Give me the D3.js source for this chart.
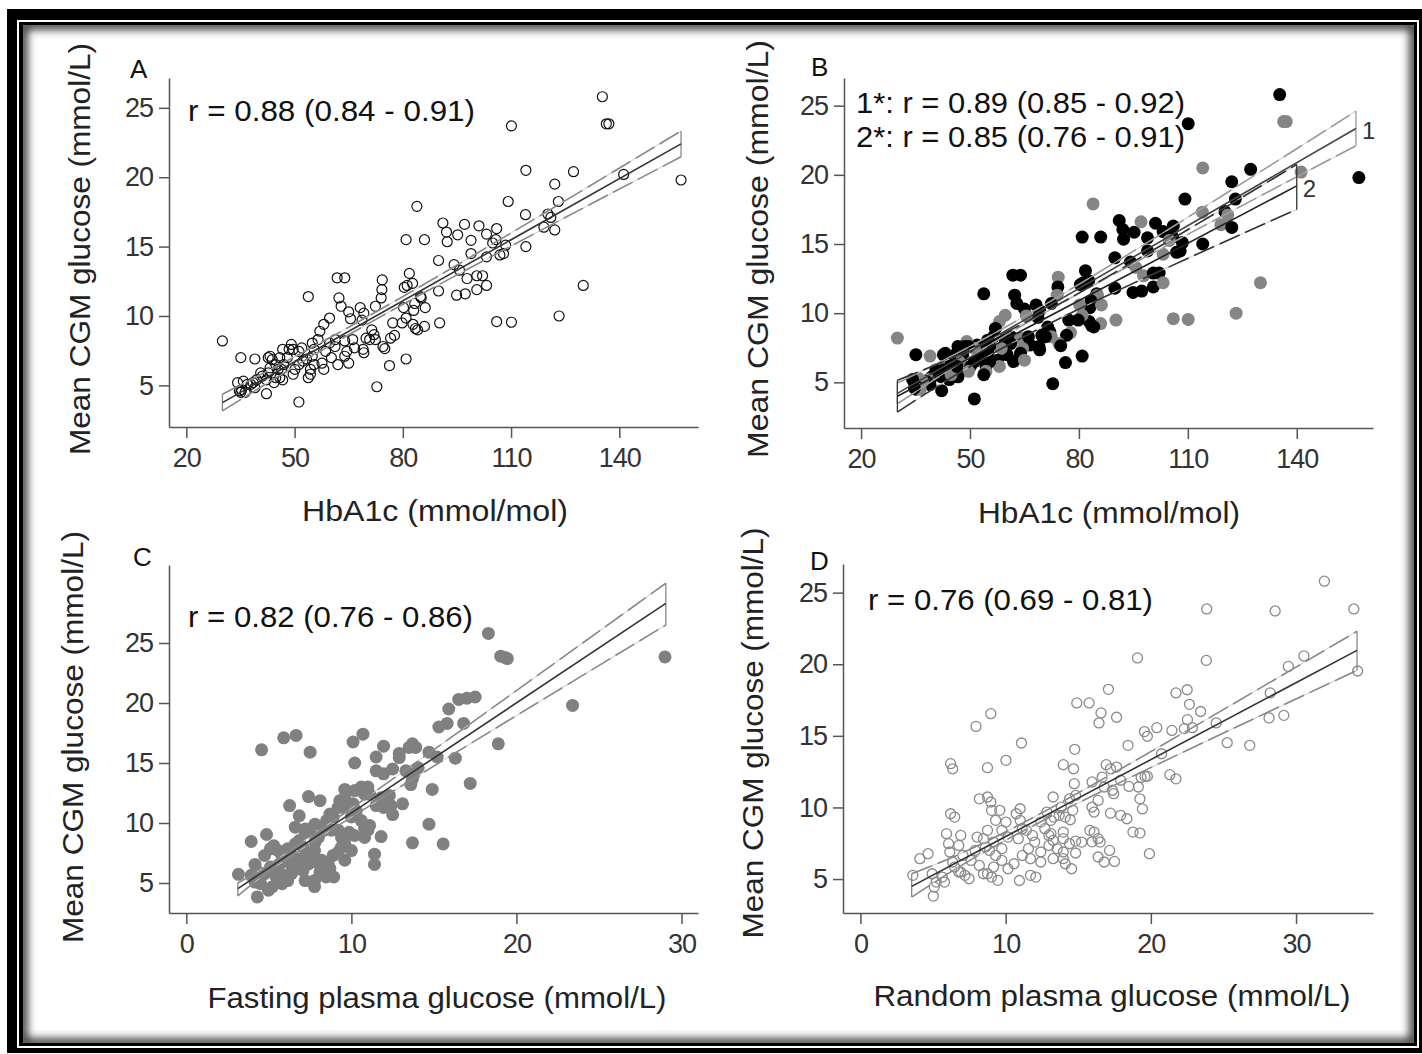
<!DOCTYPE html>
<html>
<head>
<meta charset="utf-8">
<script src="https://cdnjs.cloudflare.com/ajax/libs/d3/7.8.5/d3.min.js"></script>
<style>
  body { margin: 0; background: #fff; }
  svg { display: block; font-family: "Liberation Sans", Arial, sans-serif; }
  .tick text { fill: #333; font-size: 27px; letter-spacing: -1px; }
  .domain, .tick line { stroke: #555; stroke-width: 1.5; }
</style>
</head>
<body>
<div id="chart"></div>
<script>
var svgWidth = 1422;
var svgHeight = 1054;

// HbA1c (mmol/mol) and mean CGM glucose (mmol/L), group 1 = black, 2 = grey in panel B
var hbaX = [135.3,136.4,137.1,110.1,114.1,127.3,141.2,157.1,122.1,123.1,109.2,83.9,114.0,120.2,121.0,119.1,122.1,114.1,130.0,123.3,
  106.0,110.1,91.1,92.1,92.3,95.2,97.1,98.9,101.1,103.2,106.0,105.8,104.9,98.9,103.2,106.9,107.9,89.9,94.2,95.7,
  97.8,100.5,102.1,97.3,94.9,100.5,103.2,89.9,90.2,80.9,86.0,81.8,82.7,80.4,81.2,84.9,85.1,83.3,83.0,86.2,
  86.0,82.8,83.5,84.1,80.2,80.9,79.8,77.2,77.7,76.6,74.5,75.0,76.3,80.9,72.8,74.3,74.2,74.0,72.4,68.2,
  69.2,68.7,71.4,72.0,72.4,70.8,69.8,69.0,69.2,61.8,63.9,62.3,62.9,65.0,65.5,59.7,58.1,57.0,61.3,59.7,
  56.5,63.9,66.1,66.6,61.2,64.5,63.9,62.0,65.0,60.2,58.6,57.6,58.1,55.4,54.4,54.4,53.8,55.4,54.9,53.3,
  53.8,52.0,51.2,52.3,51.2,50.1,49.6,49.1,49.6,48.5,48.0,46.7,45.9,47.0,45.4,45.9,46.7,43.8,43.2,42.7,
  42.2,43.2,42.7,44.3,44.8,40.6,41.1,39.5,38.5,39.0,37.9,36.9,35.8,35.3,35.1,36.3,39.0,35.1,42.2,51.2,
  30.0,34.2,34.7,44.8,46.4,54.9,108.5];
var hbaY = [25.8,23.85,23.85,23.7,20.5,20.4,20.2,19.8,19.5,18.25,18.25,17.9,17.3,17.35,17.1,16.4,16.2,15.0,12.2,10.0,
  9.6,9.55,16.7,16.05,15.35,15.85,16.6,15.45,16.5,15.9,16.3,15.5,15.26,14.5,14.26,14.4,14.5,14.0,13.7,13.3,
  12.7,12.9,12.9,11.6,11.5,11.9,12.2,11.8,9.5,15.5,15.5,13.07,12.35,12.06,12.2,11.4,11.3,10.9,10.4,10.6,
  9.25,9.4,9.1,9.0,10.6,9.85,9.5,9.5,8.6,8.4,7.8,7.65,6.43,6.9,4.9,12.6,11.9,11.3,10.7,10.6,
  10.2,9.7,9.0,8.65,8.3,8.3,8.4,7.6,7.35,12.75,12.75,11.3,10.7,10.3,9.8,9.85,9.4,8.9,8.3,8.05,
  8.3,8.2,8.3,7.7,7.8,7.45,7.1,6.5,6.6,7.0,7.45,6.6,6.15,6.5,6.15,5.8,5.55,7.6,7.1,6.9,
  11.4,7.7,7.45,6.75,6.5,6.15,5.8,7.95,7.6,7.6,7.0,7.6,7.0,6.5,6.15,5.55,5.4,6.85,6.26,5.9,
  5.4,7.1,7.0,5.2,5.55,5.9,5.67,5.4,5.2,4.83,5.07,5.07,5.3,4.7,4.5,4.5,6.9,7.0,4.4,3.8,
  8.2,5.2,4.6,6.5,6.15,8.05,15.1];
var hbaGroup = [1,2,2,1,2,1,2,1,1,1,1,2,2,1,2,2,1,1,2,2,
  2,2,1,1,1,1,2,1,1,1,1,1,2,1,2,1,1,1,1,2,
  2,1,1,1,1,1,2,1,2,1,1,1,1,1,1,1,2,1,1,2,
  2,1,1,1,2,2,1,1,2,1,2,1,1,1,1,2,1,2,1,1,
  1,1,1,1,2,1,1,1,1,1,1,1,1,1,2,2,2,1,1,1,
  1,2,1,1,1,2,1,1,2,1,2,1,2,1,1,2,1,1,1,1,
  1,1,2,1,1,1,2,2,1,1,1,1,1,2,1,1,1,1,2,1,
  1,1,1,1,2,1,1,1,2,1,1,2,2,1,1,2,2,1,1,1,
  2,1,1,1,1,1,1];

// Fasting plasma glucose (mmol/L) and mean CGM glucose
var fpgX = [18.3,19.05,19.3,19.45,29.0,23.4,18.9,17.2,14.9,14.7,13.7,15.56,15.9,16.5,17.0,17.5,15.3,15.8,16.8,14.7,
  15.2,16.3,4.56,5.9,6.65,7.5,10.1,10.7,10.2,11.95,11.5,11.5,11.95,12.5,12.9,12.9,13.5,13.7,13.9,13.3,
  13.7,13.6,13.1,12.3,12.4,12.5,11.95,11.8,11.5,11.0,10.8,11.1,10.6,10.2,9.6,9.6,9.3,9.2,9.5,10.1,
  10.3,10.0,10.6,10.8,11.1,11.0,11.8,11.4,11.4,7.4,8.1,6.26,6.84,6.6,7.2,7.8,8.5,8.7,8.9,8.8,
  9.2,9.4,9.6,10.0,8.35,8.0,7.8,7.5,7.2,4.86,3.93,4.16,4.28,4.74,5.09,5.3,5.56,5.8,5.9,6.14,
  6.37,6.6,6.84,7.07,7.3,7.5,7.77,7.9,8.2,8.6,8.7,8.9,9.2,9.4,9.6,8.1,7.77,7.2,7.77,6.84,
  6.37,6.14,5.8,5.44,5.2,4.98,4.5,4.3,3.93,4.16,3.16,4.74,5.1,5.44,5.67,5.9,6.37,6.6,7.07,7.4,
  6.84,8.47,8.93,14.05,13.8,9.86,10.2,10.8];
var fpgY = [25.8,23.9,23.8,23.7,23.84,19.8,16.6,13.3,12.8,9.9,8.35,8.26,19.5,20.3,20.4,20.5,18.0,18.3,18.3,15.9,
  15.5,15.4,16.1,17.1,17.3,15.9,16.75,17.4,15.0,16.4,15.5,14.35,14.1,14.5,15.45,15.8,16.3,16.6,16.3,14.35,
  13.66,13.2,11.6,12.3,11.45,10.7,11.3,12.1,11.45,13.0,12.4,12.4,13.0,12.7,12.8,12.1,11.86,11.3,11.3,11.6,
  11.0,10.5,10.2,9.6,9.8,9.4,8.87,7.4,6.55,12.2,11.86,11.45,10.6,9.65,9.5,9.9,10.2,10.75,10.5,9.4,
  9.4,8.8,8.3,7.7,9.4,8.8,8.4,9.5,9.2,9.04,8.46,6.55,6.0,7.3,7.85,8.1,7.7,7.3,6.9,7.85,
  7.3,8.26,8.54,8.0,7.43,7.0,7.7,6.74,6.9,6.6,6.2,7.3,7.57,8.0,6.9,5.9,5.2,5.2,4.7,6.2,
  5.77,5.2,4.94,5.5,4.67,4.4,4.94,3.84,5.64,5.08,5.72,5.77,6.33,6.05,6.6,5.64,6.47,6.2,6.05,6.6,
  7.0,5.5,5.5,14.6,14.1,9.23,8.96,8.8];

// Random plasma glucose (mmol/L) and mean CGM glucose
var rpgX = [31.95,23.85,28.56,33.98,19.08,23.82,30.54,29.47,34.24,17.08,21.73,22.5,28.22,22.66,23.43,14.9,15.75,8.98,16.57,16.43,
  17.64,7.96,11.09,19.56,19.76,20.41,21.45,22.52,22.3,22.86,24.5,25.26,26.81,28.14,29.16,18.43,14.76,10.02,6.21,6.35,
  8.75,13.97,14.68,16.93,17.22,17.64,20.74,21.31,21.73,19.33,19.6,19.76,14.73,15.95,16.65,16.79,17.92,18.49,17.36,17.44,
  19.14,19.25,19.42,17.22,17.92,18.35,18.77,19.25,19.9,16.37,15.95,16.09,16.09,16.37,16.51,17.16,16.37,16.79,17.5,15.8,
  15.95,15.24,14.82,14.4,14.82,14.54,13.97,14.11,14.82,14.4,14.62,14.11,14.45,13.27,13.83,13.69,13.32,12.84,13.12,12.7,
  13.12,12.42,12.98,13.27,12.98,13.97,13.97,13.55,13.97,12.42,13.27,11.43,11.85,12.0,11.57,11.71,11.0,10.73,11.0,11.15,
  10.02,9.74,10.16,10.87,10.95,11.71,12.08,12.42,9.03,9.31,9.6,8.19,8.75,8.98,8.75,8.47,8.61,8.89,9.17,9.74,
  9.31,9.74,9.17,8.75,9.03,9.46,8.47,8.04,7.9,7.62,8.19,7.48,6.91,6.77,7.06,6.49,6.77,6.21,6.49,5.93,
  6.07,6.15,6.35,4.66,4.09,3.61,4.94,5.22,5.08,5.02,5.64,5.79,6.91,7.2,10.16,10.58,11.15];
var rpgY = [25.8,23.86,23.72,23.86,20.44,20.27,20.58,19.85,19.53,18.25,18.0,18.22,18.0,17.2,16.7,17.3,17.3,16.55,16.6,15.9,
  16.3,15.66,14.5,15.3,14.97,15.57,15.38,16.13,15.5,15.57,15.9,14.52,14.34,16.25,16.43,14.34,14.06,13.29,13.06,12.7,
  12.78,12.99,12.7,12.99,12.7,12.82,13.75,12.29,12.0,12.1,12.17,12.17,11.66,11.78,12.12,11.43,11.9,11.47,11.2,10.96,
  11.43,10.6,9.9,9.6,9.45,9.21,8.28,8.21,6.77,10.49,10.03,9.68,8.28,7.82,7.58,7.0,6.54,6.19,6.23,8.4,
  7.6,7.58,7.65,7.47,6.82,5.72,6.42,6.07,10.84,10.61,9.8,9.33,9.14,10.73,10.03,9.45,9.33,9.68,9.1,8.52,
  8.17,8.98,8.05,7.7,7.35,8.28,7.82,7.12,6.89,6.89,6.42,8.4,8.05,7.58,7.12,6.42,9.91,9.56,9.1,8.52,
  8.98,8.4,7.93,7.82,4.9,5.26,5.14,6.19,9.8,9.1,9.8,10.6,10.73,10.38,8.4,7.82,7.23,7.0,7.58,7.12,
  6.65,6.3,5.84,5.37,5.14,4.91,5.37,7.93,7.0,6.3,5.95,5.02,8.05,7.35,6.65,5.84,5.49,9.56,9.33,8.17,
  7.47,6.89,6.19,6.77,6.42,5.26,5.37,4.79,4.44,3.81,5.14,4.79,5.49,5.26,5.72,6.07,6.65];

// tick labels
var hbaTicks = [20, 50, 80, 110, 140];
var pgTicks = [0, 10, 20, 30];
var cgmTicks = [5, 10, 15, 20, 25];

// regression lines and 95% CI lines, [x, y]
var fitA = [[30, 3.76], [157.1, 22.4]];
var upperA = [[30, 4.36], [78, 11.1], [157.1, 23.33]];
var lowerA = [[30, 3.16], [78, 10.55], [157.1, 21.47]];

var fitB1 = [[30, 4.2], [156.3, 23.35]];
var upperB1 = [[30, 4.95], [75, 11.3], [156.3, 24.6]];
var lowerB1 = [[30, 3.45], [75, 10.7], [156.3, 22.1]];
var fitB2 = [[30, 4.0], [140, 19.2]];
var upperB2 = [[30, 5.15], [70, 10.0], [140, 20.75]];
var lowerB2 = [[30, 2.85], [70, 9.0], [140, 17.5]];

var fitC = [[3.12, 4.53], [29.05, 28.3]];
var upperC = [[3.12, 5.0], [9.5, 10.75], [29.05, 29.98]];
var lowerC = [[3.12, 3.92], [9.5, 10.05], [29.05, 26.5]];

var fitD = [[3.53, 4.49], [34.2, 20.97]];
var upperD = [[3.53, 5.37], [13, 9.9], [34.2, 22.3]];
var lowerD = [[3.53, 3.74], [13, 9.3], [34.2, 19.57]];

var svg = d3.select("#chart")
  .append("svg")
  .attr("width", svgWidth)
  .attr("height", svgHeight);

// frame: thick black border, white line, thin black line, inner shadow
var defs = svg.append("defs");
defs.append("filter")
  .attr("id", "soft")
  .attr("x", "-5%").attr("y", "-5%").attr("width", "110%").attr("height", "110%")
  .append("feGaussianBlur")
  .attr("stdDeviation", 4);
defs.append("clipPath")
  .attr("id", "inner")
  .append("rect")
  .attr("x", 23).attr("y", 25).attr("width", 1391).attr("height", 1018);

svg.append("rect").attr("x", 7).attr("y", 9).attr("width", 1430).attr("height", 1044).attr("fill", "#000");
svg.append("rect").attr("x", 17).attr("y", 20).attr("width", 1402).attr("height", 1028).attr("fill", "#fff");
svg.append("rect").attr("x", 19).attr("y", 22).attr("width", 1398).attr("height", 1024).attr("fill", "#000");
svg.append("rect").attr("x", 23).attr("y", 25).attr("width", 1391).attr("height", 1018).attr("fill", "#fff");
svg.append("g")
  .attr("clip-path", "url(#inner)")
  .append("rect")
  .attr("x", 23).attr("y", 25).attr("width", 1391).attr("height", 1018)
  .attr("fill", "none")
  .attr("stroke", "#333")
  .attr("stroke-width", 9)
  .attr("filter", "url(#soft)");

// set up one panel: scales, axes, titles
function makePanel(p) {
  var x = d3.scaleLinear().domain(p.xDomain).range([p.left, p.right]);
  var y = d3.scaleLinear().domain(p.yDomain).range([p.bottom, p.top]);
  var g = svg.append("g");

  g.append("g")
    .attr("transform", `translate(0, ${p.bottom})`)
    .call(d3.axisBottom(x).tickValues(p.xTicks).tickSize(11).tickSizeOuter(0).tickPadding(10));

  g.append("g")
    .attr("transform", `translate(${p.left}, 0)`)
    .call(d3.axisLeft(y).tickValues(cgmTicks).tickSize(10).tickSizeOuter(0).tickPadding(6));

  g.append("text")
    .attr("x", p.xTitle[0])
    .attr("y", p.xTitle[1])
    .attr("text-anchor", "middle")
    .attr("font-size", 30)
    .attr("fill", "#222")
    .attr("textLength", p.xTitle[2])
    .attr("lengthAdjust", "spacingAndGlyphs")
    .text(p.xLabel);

  g.append("text")
    .attr("transform", `translate(${p.yTitle[0]}, ${p.yTitle[1]}) rotate(-90)`)
    .attr("text-anchor", "middle")
    .attr("font-size", 30)
    .attr("fill", "#222")
    .attr("textLength", p.yTitle[2])
    .attr("lengthAdjust", "spacingAndGlyphs")
    .text("Mean CGM glucose (mmol/L)");

  g.append("text")
    .attr("x", p.letterPos[0])
    .attr("y", p.letterPos[1])
    .attr("font-size", 26)
    .attr("fill", "#111")
    .text(p.letter);

  p.rText.forEach(function(t, i) {
    g.append("text")
      .attr("x", p.rPos[0])
      .attr("y", p.rPos[1] + i * 34)
      .attr("font-size", 29)
      .attr("fill", "#111")
      .attr("textLength", p.rPos[2])
      .attr("lengthAdjust", "spacingAndGlyphs")
      .text(t);
  });

  return { x: x, y: y, g: g };
}

// regression line with dashed CI lines closed at both ends
function drawFit(panel, fit, upper, lower, lineColor, ciColor) {
  var line = d3.line()
    .x(d => panel.x(d[0]))
    .y(d => panel.y(d[1]))
    .curve(d3.curveNatural);
  var g = panel.g.append("g").attr("fill", "none");

  [upper, lower].forEach(function(ci) {
    g.append("path").attr("d", line(ci)).attr("stroke", "#cfcfcf").attr("stroke-width", 1);
    g.append("path").attr("d", line(ci)).attr("stroke", ciColor).attr("stroke-width", 1.6)
      .attr("stroke-dasharray", "22,6");
  });
  [0, upper.length - 1].forEach(function(i) {
    g.append("path")
      .attr("d", d3.line()([[panel.x(upper[i][0]), panel.y(upper[i][1])], [panel.x(lower[i][0]), panel.y(lower[i][1])]]))
      .attr("stroke", ciColor)
      .attr("stroke-width", 1.3);
  });
  g.append("path").attr("d", line(fit)).attr("stroke", lineColor).attr("stroke-width", 1.6);
}

var hbaIdx = d3.range(hbaX.length);

// A
var pA = makePanel({
  left: 169, right: 698, top: 78, bottom: 427,
  xDomain: [15.2, 161.8], yDomain: [2.0, 27.15], xTicks: hbaTicks,
  xLabel: "HbA1c (mmol/mol)", xTitle: [435, 521, 266], yTitle: [90, 249, 412],
  letter: "A", letterPos: [130, 78],
  rText: ["r = 0.88 (0.84 - 0.91)"], rPos: [188, 121, 287]
});
pA.g.selectAll("circle")
  .data(hbaIdx)
  .enter()
  .append("circle")
  .attr("cx", i => pA.x(hbaX[i]))
  .attr("cy", i => pA.y(hbaY[i]))
  .attr("r", 5)
  .attr("fill", "none")
  .attr("stroke", "#111")
  .attr("stroke-width", 1.2);
drawFit(pA, fitA, upperA, lowerA, "#333", "#888");

// B
var pB = makePanel({
  left: 844, right: 1373, top: 78, bottom: 428,
  xDomain: [15.3, 161], yDomain: [1.7, 27], xTicks: hbaTicks,
  xLabel: "HbA1c (mmol/mol)", xTitle: [1109, 523, 262], yTitle: [768, 249, 418],
  letter: "B", letterPos: [811, 76],
  rText: ["1*: r = 0.89 (0.85 - 0.92)", "2*: r = 0.85 (0.76 - 0.91)"], rPos: [856, 113, 329]
});
pB.g.selectAll("circle")
  .data(hbaIdx)
  .enter()
  .append("circle")
  .attr("cx", i => pB.x(hbaX[i]))
  .attr("cy", i => pB.y(hbaY[i]))
  .attr("r", 6.5)
  .attr("fill", i => hbaGroup[i] === 1 ? "#000" : "#858585");
drawFit(pB, fitB1, upperB1, lowerB1, "#444", "#9a9a9a");
drawFit(pB, fitB2, upperB2, lowerB2, "#222", "#333");
[[fitB1, "1"], [fitB2, "2"]].forEach(function(f) {
  var end = f[0][f[0].length - 1];
  pB.g.append("text")
    .attr("x", pB.x(end[0]) + 6)
    .attr("y", pB.y(end[1]) + 11)
    .attr("font-size", 24)
    .attr("fill", "#333")
    .text(f[1]);
});

// C
var pC = makePanel({
  left: 169, right: 698, top: 565, bottom: 913,
  xDomain: [-1.05, 31.0], yDomain: [2.5, 31.5], xTicks: pgTicks,
  xLabel: "Fasting plasma glucose (mmol/L)", xTitle: [437, 1008, 459], yTitle: [83, 737, 412],
  letter: "C", letterPos: [133, 566],
  rText: ["r = 0.82 (0.76 - 0.86)"], rPos: [188, 627, 285]
});
pC.g.selectAll("circle")
  .data(d3.range(fpgX.length))
  .enter()
  .append("circle")
  .attr("cx", i => pC.x(fpgX[i]))
  .attr("cy", i => pC.y(fpgY[i]))
  .attr("r", 6.5)
  .attr("fill", "#808080");
drawFit(pC, fitC, upperC, lowerC, "#333", "#888");

// D
var pD = makePanel({
  left: 843, right: 1373, top: 564, bottom: 913,
  xDomain: [-1.2, 35.3], yDomain: [2.63, 27.0], xTicks: pgTicks,
  xLabel: "Random plasma glucose (mmol/L)", xTitle: [1112, 1006, 477], yTitle: [763, 733, 411],
  letter: "D", letterPos: [810, 570],
  rText: ["r = 0.76 (0.69 - 0.81)"], rPos: [868, 610, 285]
});
pD.g.selectAll("circle")
  .data(d3.range(rpgX.length))
  .enter()
  .append("circle")
  .attr("cx", i => pD.x(rpgX[i]))
  .attr("cy", i => pD.y(rpgY[i]))
  .attr("r", 5)
  .attr("fill", "none")
  .attr("stroke", "#8a8a8a")
  .attr("stroke-width", 1.3);
drawFit(pD, fitD, upperD, lowerD, "#333", "#888");
</script>
</body>
</html>
